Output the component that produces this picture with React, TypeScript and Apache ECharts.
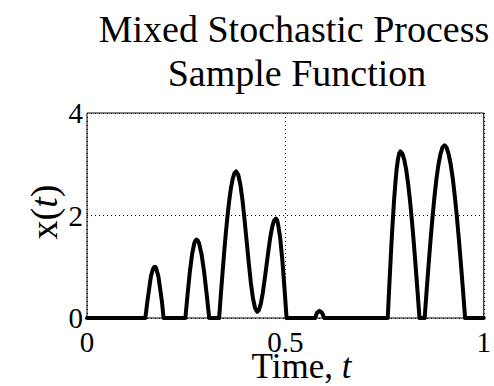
import React, { useEffect, useRef } from "react";
import * as echarts from "echarts";

// Axis ticks
const xTicks = [0, 0.5, 1];
const yTicks = [0, 2, 4];

// Pulses of the sample function (time, value)
const pulse1T = [0.147, 0.152, 0.157, 0.161, 0.166, 0.169, 0.171, 0.173, 0.175, 0.18, 0.184, 0.189, 0.193];
const pulse1X = [0, 0.31, 0.59, 0.81, 0.95, 0.99, 1.0, 0.99, 0.95, 0.81, 0.59, 0.31, 0];

const pulse2T = [0.248, 0.2536, 0.2592, 0.2648, 0.2704, 0.2732, 0.276, 0.2792, 0.2824, 0.2888, 0.2952, 0.3016, 0.308];
const pulse2X = [0, 0.47, 0.9, 1.24, 1.46, 1.51, 1.53, 1.51, 1.46, 1.24, 0.9, 0.47, 0];

const pulse3T = [
  0.333, 0.3373, 0.3416, 0.3459, 0.3502, 0.3545, 0.3588, 0.3631, 0.3674, 0.3717, 0.376,
  0.3813, 0.3866, 0.3919, 0.3972, 0.4025, 0.4078, 0.4131, 0.4184, 0.4237, 0.429,
  0.4337, 0.4384, 0.4431, 0.4478, 0.4525, 0.4572, 0.4619, 0.4666, 0.4713, 0.476,
  0.4787, 0.4814, 0.4868, 0.4922, 0.4976, 0.503,
];
const pulse3X = [
  0, 0.45, 0.88, 1.3, 1.68, 2.02, 2.31, 2.55, 2.72, 2.83, 2.86,
  2.79, 2.6, 2.3, 1.91, 1.49, 1.07, 0.68, 0.38, 0.19, 0.12,
  0.16, 0.29, 0.49, 0.75, 1.03, 1.31, 1.57, 1.77, 1.9, 1.94,
  1.92, 1.84, 1.57, 1.14, 0.6, 0,
];

const pulse4T = [0.575, 0.5795, 0.586, 0.5925, 0.598];
const pulse4X = [0, 0.1, 0.14, 0.1, 0];

const pulse5T = [
  0.758, 0.7612, 0.7644, 0.7676, 0.7708, 0.774, 0.7772, 0.7804, 0.7836, 0.7868, 0.79,
  0.7948, 0.7996, 0.8044, 0.8092, 0.814, 0.8188, 0.8236, 0.8284, 0.8332, 0.838,
];
const pulse5X = [
  0, 0.51, 1.0, 1.48, 1.91, 2.3, 2.63, 2.9, 3.09, 3.21, 3.25,
  3.21, 3.09, 2.9, 2.63, 2.3, 1.91, 1.48, 1.0, 0.51, 0,
];

const pulse6T = [
  0.851, 0.856, 0.861, 0.866, 0.871, 0.876, 0.881, 0.886, 0.891, 0.896, 0.901,
  0.9062, 0.9114, 0.9166, 0.9218, 0.927, 0.9322, 0.9374, 0.9426, 0.9478, 0.953,
];
const pulse6X = [
  0, 0.53, 1.04, 1.53, 1.98, 2.38, 2.73, 3.0, 3.2, 3.33, 3.37,
  3.33, 3.2, 3.0, 2.73, 2.38, 1.98, 1.53, 1.04, 0.53, 0,
];

const startPoint = [0, 0];
const endPoint = [1, 0];

const titleLines = ["Mixed Stochastic Process", "Sample Function"];
const xLabelText = "Time, ";
const yLabelText = "x(";

const SERIF = '"Liberation Serif", "Times New Roman", serif';

export default function App() {
  const ref = useRef<HTMLDivElement>(null);

  useEffect(() => {
    if (!ref.current) return;
    const chart = echarts.init(ref.current, undefined, { renderer: "svg" });

    const pulses: [number[], number[]][] = [
      [pulse1T, pulse1X],
      [pulse2T, pulse2X],
      [pulse3T, pulse3X],
      [pulse4T, pulse4X],
      [pulse5T, pulse5X],
      [pulse6T, pulse6X],
    ];
    const data: number[][] = [startPoint];
    pulses.forEach(([ts, xs]) => ts.forEach((t, i) => data.push([t, xs[i]])));
    data.push(endPoint);

    chart.setOption({
      animation: false,
      backgroundColor: "#fff",
      grid: {
        left: 87,
        top: 113,
        width: 402,
        height: 205,
        show: true,
        borderColor: "#000",
        borderWidth: 1,
        backgroundColor: "transparent",
      },
      xAxis: {
        type: "value",
        min: xTicks[0],
        max: xTicks[xTicks.length - 1],
        interval: xTicks[1] - xTicks[0],
        axisLine: { show: false },
        axisTick: { show: false },
        splitLine: { show: true, lineStyle: { color: "#000", width: 1, type: [1, 3] } },
        axisLabel: { fontSize: 29, fontFamily: SERIF, color: "#000", margin: 9, hideOverlap: false },
      },
      yAxis: {
        type: "value",
        min: yTicks[0],
        max: yTicks[yTicks.length - 1],
        interval: yTicks[1] - yTicks[0],
        axisLine: { show: false },
        axisTick: { show: false },
        splitLine: { show: true, lineStyle: { color: "#000", width: 1, type: [1, 3] } },
        axisLabel: { fontSize: 29, fontFamily: SERIF, color: "#000", margin: 4 },
      },
      graphic: [
        {
          type: "text",
          x: 294,
          y: 29,
          style: {
            text: titleLines[0],
            font: `38px ${SERIF}`,
            fill: "#000",
            textAlign: "center",
            textVerticalAlign: "middle",
          },
        },
        {
          type: "text",
          x: 297,
          y: 72.5,
          style: {
            text: titleLines[1],
            font: `38px ${SERIF}`,
            fill: "#000",
            textAlign: "center",
            textVerticalAlign: "middle",
          },
        },
        {
          type: "text",
          x: 301.5,
          y: 366,
          style: {
            text: `{n|${xLabelText}}{i|t}`,
            textAlign: "center",
            textVerticalAlign: "middle",
            rich: {
              n: { font: `35px ${SERIF}`, fill: "#000" },
              i: { font: `italic 35px ${SERIF}`, fill: "#000" },
            },
          },
        },
        {
          type: "text",
          x: 44,
          y: 212,
          rotation: Math.PI / 2,
          style: {
            text: `{n|${yLabelText}}{i|t}{n|)}`,
            textAlign: "center",
            textVerticalAlign: "middle",
            rich: {
              n: { font: `38px ${SERIF}`, fill: "#000" },
              i: { font: `italic 38px ${SERIF}`, fill: "#000" },
            },
          },
        },
      ],
      series: [
        {
          type: "line",
          data,
          symbol: "none",
          showSymbol: false,
          smooth: false,
          clip: true,
          lineStyle: { color: "#000", width: 4, join: "round", cap: "round" },
        },
      ],
    });

    return () => chart.dispose();
  }, []);

  return (
    <div
      ref={ref}
      style={{ position: "fixed", left: 0, top: 0, width: 494, height: 386, background: "#fff" }}
    />
  );
}
